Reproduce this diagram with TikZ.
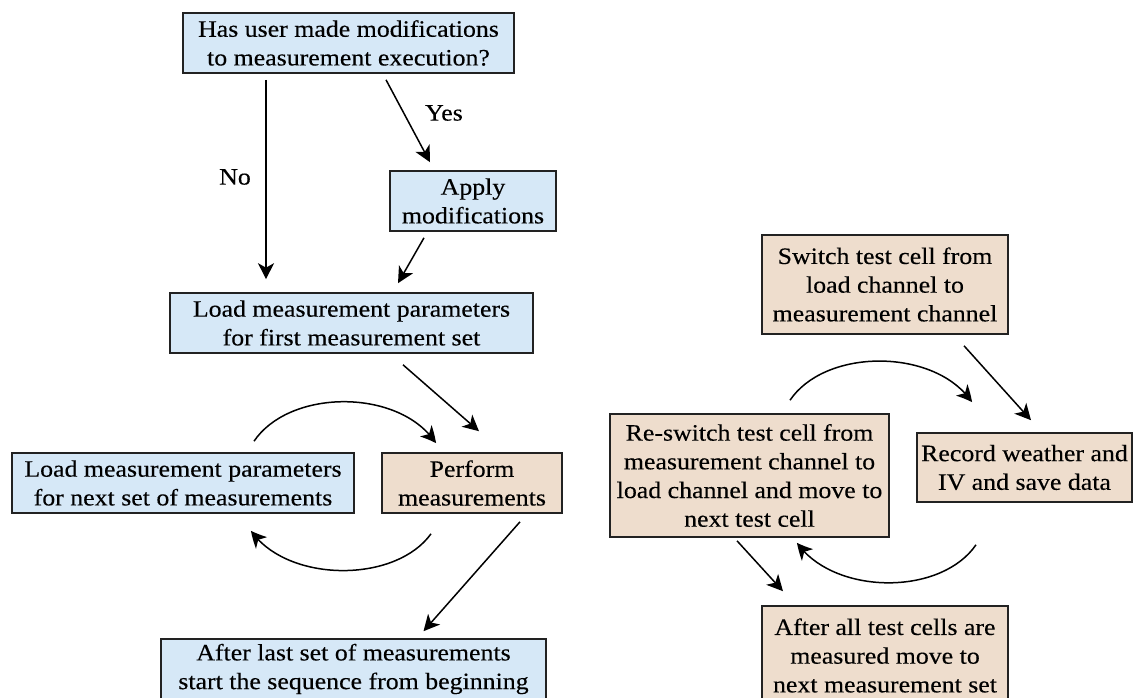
\documentclass[tikz,border=0pt]{standalone}
\usepackage{fontspec}
\setmainfont{Liberation Serif}[FakeStretch=1.1,FakeBold=0.3]
\usetikzlibrary{arrows.meta,bending,calc}
\definecolor{boxblue}{RGB}{214,232,247}
\definecolor{boxtan}{RGB}{238,221,205}
\definecolor{edge}{RGB}{34,34,34}
\begin{document}
\begin{tikzpicture}[x=1pt,y=-1pt,
  box/.style={draw=edge, line width=1.6pt, inner sep=0pt, align=center,
              font=\fontsize{23.5}{28.7}\selectfont},
  blue box/.style={box, fill=boxblue},
  tan box/.style={box, fill=boxtan},
  flow/.style={line width=1.5pt, -{Stealth[length=16pt,width=16pt,inset=4.5pt]}},
  curved/.style={line width=1.5pt, -{Stealth[length=16pt,width=16pt,inset=4.5pt,bend]}},
  tag/.style={inner sep=0pt, font=\fontsize{23.5}{28.7}\selectfont}
]
\useasboundingbox (0,0) rectangle (1134,698);
\clip (0,0) rectangle (1134,698);

% left sequence
\node[blue box, minimum width=331pt, minimum height=60pt] (q) at (348.5,43)
  {Has user made modifications\\to measurement execution?};
\node[blue box, minimum width=166pt, minimum height=60pt] (apply) at (473,201)
  {Apply\\modifications};
\node[blue box, minimum width=363pt, minimum height=60pt] (first) at (351.5,323)
  {Load measurement parameters\\for first measurement set};
\node[blue box, minimum width=342pt, minimum height=60pt] (next) at (183,483)
  {Load measurement parameters\\for next set of measurements};
\node[tan box, minimum width=180pt, minimum height=60pt] (perf) at (472,483)
  {Perform\\measurements};
\node[blue box, minimum width=385pt, minimum height=60pt] (last) at (353.5,669)
  {After last set of measurements\\start the sequence from beginning};

% right loop
\node[tan box, minimum width=246pt, minimum height=99pt] (switch) at (885,284.5)
  {Switch test cell from\\load channel to\\measurement channel};
\node[tan box, minimum width=279pt, minimum height=123pt] (reswitch) at (749.5,475.5)
  {Re-switch test cell from\\measurement channel to\\load channel and move to\\next test cell};
\node[tan box, minimum width=215pt, minimum height=69pt] (record) at (1024.5,467.5)
  {Record weather and\\IV and save data};
\node[tan box, minimum width=246pt, minimum height=99pt] (allcells) at (885,655.5)
  {After all test cells are\\measured move to\\next measurement set};

% connectors, left
\draw[flow] ($(q.south)+(-82.5,6)$) -- ($(first.north)+(-85.5,-13)$);
\draw[flow] ($(q.south)+(37.5,6)$) -- ($(apply.north)+(-43,-8)$);
\draw[flow] ($(apply.south)+(-49,6)$) -- ($(first.north)+(46.5,-9)$);
\draw[flow] ($(first.south)+(51.5,11)$) -- ($(perf.north)+(7,-21)$);
\draw[curved] ($(next.north)+(71,-11)$) .. controls +(36,-53) and +(-36,-55) .. ($(perf.north)+(-36,-9)$);
\draw[curved] ($(perf.south)+(-41,20)$) .. controls +(-36,50) and +(36,52) .. ($(next.south)+(68,17)$);
\draw[flow] ($(perf.south)+(48,8)$) -- ($(last.north)+(70,-7)$);

\node[tag] (no) at (235,177) {No};
\node[tag] (yes) at (444,113) {Yes};

% connectors, right
\draw[flow] ($(switch.south)+(79,11)$) -- ($(record.north)+(6.5,-12)$);
\draw[curved] ($(reswitch.north)+(40.5,-13)$) .. controls +(36,-53) and +(-36,-54) .. ($(record.north)+(-52.5,-30)$);
\draw[curved] ($(record.south)+(-48.5,42)$) .. controls +(-36,52) and +(36,52) .. ($(reswitch.south)+(47.5,5)$);
\draw[flow] ($(reswitch.south)+(-12.5,3)$) -- ($(allcells.north)+(-102,-14)$);
\end{tikzpicture}
\end{document}
